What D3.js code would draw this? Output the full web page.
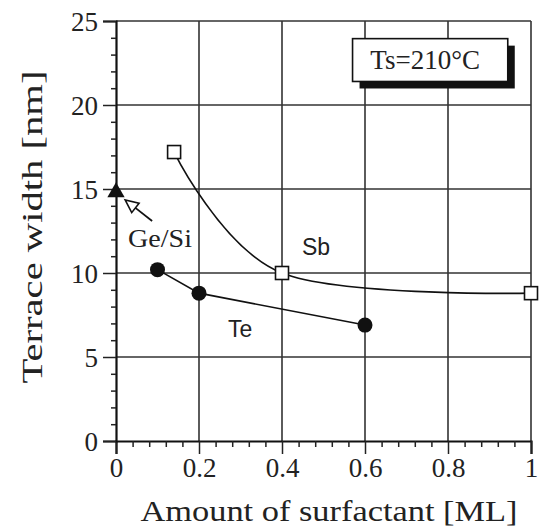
<!DOCTYPE html>
<html><head><meta charset="utf-8">
<script src="https://cdn.jsdelivr.net/npm/d3@7"></script>
<style>body{margin:0;background:#fff}
.serif{font-family:'Liberation Serif','DejaVu Serif',serif}
.sans{font-family:'Liberation Sans',Arial,sans-serif}</style>
</head><body><svg id="chart" width="542" height="531"></svg>
<script>
// Axis ticks
const xTicks = [0, 0.2, 0.4, 0.6, 0.8, 1];
const xTickLabels = ["0", "0.2", "0.4", "0.6", "0.8", "1"];
const yTicks = [0, 5, 10, 15, 20, 25];
const yTickLabels = ["0", "5", "10", "15", "20", "25"];

// Sb series (open squares)
const sbX = [0.14, 0.4, 1.0];
const sbY = [17.2, 10.0, 8.8];
// Te series (filled circles)
const teX = [0.1, 0.2, 0.6];
const teY = [10.2, 8.8, 6.9];
// Ge/Si reference (filled triangle)
const geX = [0];
const geY = [14.8];

const svg = d3.select("#chart");
const x = d3.scaleLinear().domain([0, 1]).range([116, 531]);
const y = d3.scaleLinear().domain([0, 25]).range([441, 21]);

// grid
const grid = svg.append("g").attr("stroke", "#333").attr("stroke-width", 1.6);
xTicks.filter(d => d > 0).forEach(d => grid.append("line")
  .attr("x1", x(d)).attr("x2", x(d)).attr("y1", y(0)).attr("y2", y(25)));
yTicks.filter(d => d > 0).forEach(d => grid.append("line")
  .attr("x1", x(0)).attr("x2", x(1)).attr("y1", y(d)).attr("y2", y(d)));

// minor ticks
const xMinor = d3.range(0, 1.0001, 0.04).filter(v => xTicks.every(t => Math.abs(t - v) > 1e-6));
const yMinor = d3.range(0, 25.0001, 1).filter(v => yTicks.indexOf(v) < 0);

const xAxis = svg.append("g").attr("transform", `translate(0,${y(0)})`)
  .call(d3.axisBottom(x).tickValues(xTicks).tickFormat((d, i) => xTickLabels[i]).tickSize(13).tickPadding(4));
svg.append("g").attr("transform", `translate(0,${y(0)})`)
  .call(d3.axisBottom(x).tickValues(xMinor).tickFormat("").tickSize(6))
  .call(g => g.select(".domain").remove());
const yAxis = svg.append("g").attr("transform", `translate(${x(0)},0)`)
  .call(d3.axisLeft(y).tickValues(yTicks).tickFormat((d, i) => yTickLabels[i]).tickSize(13).tickPadding(5));
svg.append("g").attr("transform", `translate(${x(0)},0)`)
  .call(d3.axisLeft(y).tickValues(yMinor).tickFormat("").tickSize(5))
  .call(g => g.select(".domain").remove());

svg.selectAll(".domain").attr("stroke", "#111").attr("stroke-width", 2.2);
svg.selectAll(".tick line").attr("stroke", "#222").attr("stroke-width", 1.5);
[xAxis, yAxis].forEach(a => a.attr("font-family", null).attr("font-size", null));
xAxis.selectAll("text").attr("class", "serif").style("font-size", "27px").attr("fill", "#222");
yAxis.selectAll("text").attr("class", "serif").style("font-size", "27px").attr("fill", "#222").attr("dy", "0.34em");

// axis titles
svg.append("text").attr("class", "serif").attr("x", 329).attr("y", 521).attr("text-anchor", "middle")
  .style("font-size", "29px").attr("fill", "#222")
  .attr("textLength", 377).attr("lengthAdjust", "spacingAndGlyphs")
  .text("Amount of surfactant [ML]");
svg.append("text").attr("class", "serif").attr("transform", "translate(42,227) rotate(-90)").attr("text-anchor", "middle")
  .style("font-size", "29px").attr("fill", "#222")
  .attr("textLength", 313).attr("lengthAdjust", "spacingAndGlyphs")
  .text("Terrace width [nm]");

// Sb curve
const sbData = sbX.map((v, i) => [v, sbY[i]]);
svg.append("path").datum(sbData)
  .attr("d", d3.line().x(d => x(d[0])).y(d => y(d[1])).curve(d3.curveCardinal))
  .attr("fill", "none").attr("stroke", "#111").attr("stroke-width", 1.6);
// Te line
const teData = teX.map((v, i) => [v, teY[i]]);
svg.append("path").datum(teData)
  .attr("d", d3.line().x(d => x(d[0])).y(d => y(d[1])))
  .attr("fill", "none").attr("stroke", "#111").attr("stroke-width", 1.6);

// markers
svg.append("g").selectAll("rect").data(sbData).join("rect")
  .attr("x", d => x(d[0]) - 6.5).attr("y", d => y(d[1]) - 6.5)
  .attr("width", 13).attr("height", 13)
  .attr("fill", "#fff").attr("stroke", "#111").attr("stroke-width", 1.6);
svg.append("g").selectAll("circle").data(teData).join("circle")
  .attr("cx", d => x(d[0])).attr("cy", d => y(d[1])).attr("r", 7.5)
  .attr("fill", "#111");
const geData = geX.map((v, i) => [v, geY[i]]);
svg.append("g").selectAll("path").data(geData).join("path")
  .attr("d", d3.symbol(d3.symbolTriangle, 130))
  .attr("transform", d => `translate(${x(d[0])},${y(d[1])})`)
  .attr("fill", "#111");

// Ge/Si label and arrow
const tip = [x(0.022), y(14.35)], tail = [x(0.087), y(13.1)];
const ang = Math.atan2(tail[1] - tip[1], tail[0] - tip[0]);
const hl = 13, hw = 6;
const bx = tip[0] + hl * Math.cos(ang), by = tip[1] + hl * Math.sin(ang);
svg.append("line").attr("x1", bx).attr("y1", by).attr("x2", tail[0]).attr("y2", tail[1])
  .attr("stroke", "#111").attr("stroke-width", 1.8);
svg.append("polygon").attr("points", [
  tip, [bx - hw * Math.sin(ang), by + hw * Math.cos(ang)], [bx + hw * Math.sin(ang), by - hw * Math.cos(ang)]
].map(p => p.join(",")).join(" ")).attr("fill", "#fff").attr("stroke", "#111").attr("stroke-width", 1.6);
svg.append("text").attr("class", "serif").attr("x", x(0.106)).attr("y", y(11.55)).attr("text-anchor", "middle")
  .style("font-size", "26px").attr("fill", "#222")
  .attr("textLength", 64).attr("lengthAdjust", "spacingAndGlyphs").text("Ge/Si");

// series labels
svg.append("text").attr("class", "sans").attr("x", x(0.482)).attr("y", y(11.07)).attr("text-anchor", "middle")
  .style("font-size", "23px").attr("fill", "#222").text("Sb");
svg.append("text").attr("class", "sans").attr("x", x(0.299)).attr("y", y(6.19)).attr("text-anchor", "middle")
  .style("font-size", "23px").attr("fill", "#222").text("Te");

// temperature box with drop shadow
const bx0 = x(0.57), bx1 = x(0.944), by0 = y(23.95), by1 = y(21.4);
svg.append("rect").attr("x", bx0 + 7).attr("y", by0 + 7).attr("width", bx1 - bx0).attr("height", by1 - by0)
  .attr("fill", "#111");
svg.append("rect").attr("x", bx0).attr("y", by0).attr("width", bx1 - bx0).attr("height", by1 - by0)
  .attr("fill", "#fff").attr("stroke", "#111").attr("stroke-width", 1.6);
svg.append("text").attr("class", "serif").attr("x", (bx0 + bx1) / 2 - 5).attr("y", by0 + 30).attr("text-anchor", "middle")
  .style("font-size", "27px").attr("fill", "#222").text("Ts=210°C");
</script></body></html>
